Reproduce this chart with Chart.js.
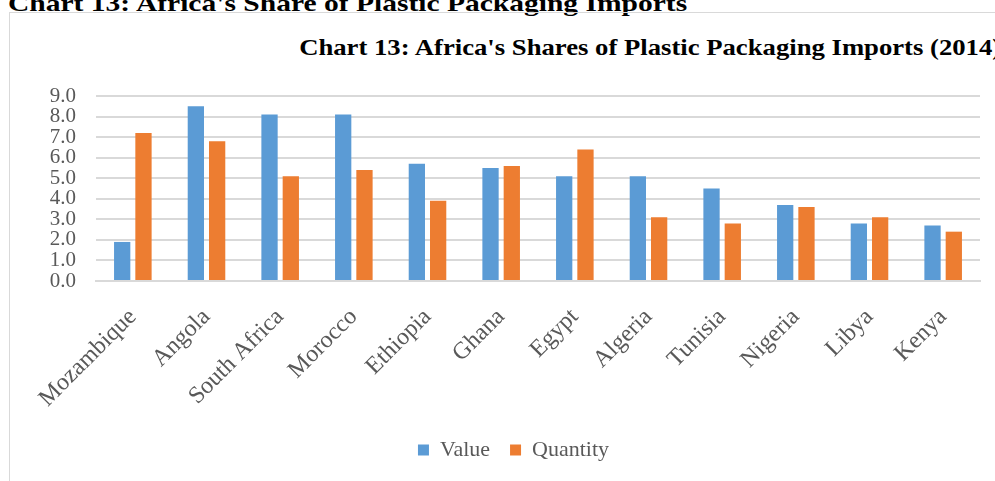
<!DOCTYPE html>
<html>
<head>
<meta charset="utf-8">
<script src="https://cdn.jsdelivr.net/npm/chart.js@4.4.1/dist/chart.umd.min.js"></script>
<style>
  html, body { margin: 0; padding: 0; background: #fff; }
  body { width: 995px; height: 481px; overflow: hidden; position: relative; }
  .heading {
    position: absolute; left: 8px; top: -9px; margin: 0;
    font: bold 24px/24px 'Liberation Serif', 'Times New Roman', serif;
    color: #000; white-space: nowrap;
    transform: scaleX(1.23); transform-origin: left top;
  }
  .frame {
    position: absolute; left: 9px; top: 12px;
    width: 988px; height: 470px;
    border: 1px solid #d9d9d9;
  }
  .chart-title {
    position: absolute; right: -3px; top: 22px; margin: 0;
    font: bold 23px/26px 'Liberation Serif', 'Times New Roman', serif;
    color: #000; white-space: nowrap;
    transform: scaleX(1.16); transform-origin: right top;
  }
  canvas { position: absolute; left: 0; top: 0; }
</style>
</head>
<body>
<p class="heading">Chart 13: Africa's Share of Plastic Packaging Imports</p>
<div class="frame">
  <p class="chart-title">Chart 13: Africa's Shares of Plastic Packaging Imports (2014)</p>
  <canvas id="chart" width="988" height="470"></canvas>
</div>
<script>
// share of imports, per cent
const countries = ['Mozambique', 'Angola', 'South Africa', 'Morocco', 'Ethiopia', 'Ghana',
  'Egypt', 'Algeria', 'Tunisia', 'Nigeria', 'Libya', 'Kenya'];
const valueShare = [1.9, 8.5, 8.1, 8.1, 5.7, 5.5, 5.1, 5.1, 4.5, 3.7, 2.8, 2.7];
const quantityShare = [7.2, 6.8, 5.1, 5.4, 3.9, 5.6, 6.4, 3.1, 2.8, 3.6, 3.1, 2.4];
const yTicks = [0, 1, 2, 3, 4, 5, 6, 7, 8, 9];

const serif = "'Liberation Serif', 'Times New Roman', serif";
const textGray = '#595959';
const gridGray = '#d9d9d9';

new Chart(document.getElementById('chart'), {
  type: 'bar',
  data: {
    labels: countries,
    datasets: [
      { label: 'Value', data: valueShare, backgroundColor: '#5b9bd5' },
      { label: 'Quantity', data: quantityShare, backgroundColor: '#ed7d31' }
    ]
  },
  options: {
    responsive: false,
    animation: false,
    categoryPercentage: 0.578,
    barPercentage: 0.765,
    layout: { padding: { top: 83, right: 18, bottom: 12, left: 37 } },
    plugins: {
      title: { display: false },
      tooltip: { enabled: false },
      legend: {
        position: 'bottom',
        labels: {
          font: { family: serif, size: 22 },
          color: textGray,
          boxWidth: 11,
          boxHeight: 11,
          padding: 20
        }
      }
    },
    scales: {
      x: {
        grid: { display: false },
        border: { color: gridGray, width: 2 },
        ticks: {
          font: { family: serif, size: 24 },
          color: textGray,
          minRotation: 45,
          maxRotation: 45,
          autoSkip: false,
          padding: 14
        },
        afterFit: (scale) => { scale.height = 138; }
      },
      y: {
        min: 0,
        max: 9,
        afterBuildTicks: (scale) => { scale.ticks = yTicks.map(v => ({ value: v })); },
        grid: { color: gridGray, lineWidth: 2, drawTicks: false },
        border: { display: false },
        ticks: {
          font: { family: serif, size: 21 },
          color: textGray,
          autoSkip: false,
          padding: 20,
          callback: (v) => v.toFixed(1)
        },
        afterFit: (scale) => { scale.width = 49; }
      }
    }
  }
});
</script>
</body>
</html>
